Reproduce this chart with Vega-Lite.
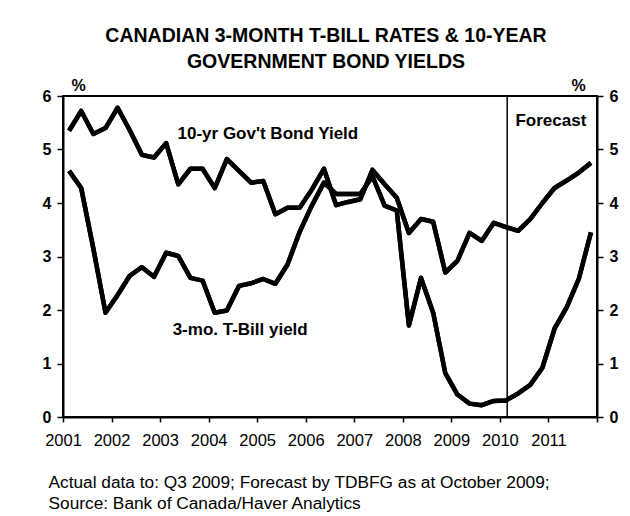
{
  "$schema": "https://vega.github.io/schema/vega-lite/v6.json",
  "width": 534,
  "height": 321,
  "autosize": {"type": "none"},
  "padding": {"left": 63, "top": 96, "right": 33, "bottom": 99},
  "background": "white",
  "config": {
    "view": {"stroke": "black", "strokeWidth": 2},
    "font": "Liberation Sans",
    "axis": {"grid": false, "domainColor": "black", "domainWidth": 2, "tickColor": "black", "tickWidth": 1.5, "labelColor": "black", "titleColor": "black"}
  },
  "title": {
    "text": ["CANADIAN 3-MONTH T-BILL RATES & 10-YEAR", "GOVERNMENT BOND YIELDS"],
    "fontSize": 19.5,
    "fontWeight": "bold",
    "font": "Liberation Sans",
    "color": "black",
    "anchor": "middle",
    "frame": "group",
    "offset": 5,
    "dx": -4,
    "lineHeight": 26
  },
  "datasets": {
    "rates": [
      {"t": 2001.125, "series": "10yr", "rate": 5.35},
      {"t": 2001.375, "series": "10yr", "rate": 5.72},
      {"t": 2001.625, "series": "10yr", "rate": 5.29},
      {"t": 2001.875, "series": "10yr", "rate": 5.40},
      {"t": 2002.125, "series": "10yr", "rate": 5.78},
      {"t": 2002.375, "series": "10yr", "rate": 5.36},
      {"t": 2002.625, "series": "10yr", "rate": 4.90},
      {"t": 2002.875, "series": "10yr", "rate": 4.85},
      {"t": 2003.125, "series": "10yr", "rate": 5.12},
      {"t": 2003.375, "series": "10yr", "rate": 4.35},
      {"t": 2003.625, "series": "10yr", "rate": 4.64},
      {"t": 2003.875, "series": "10yr", "rate": 4.64},
      {"t": 2004.125, "series": "10yr", "rate": 4.28},
      {"t": 2004.375, "series": "10yr", "rate": 4.82},
      {"t": 2004.625, "series": "10yr", "rate": 4.60},
      {"t": 2004.875, "series": "10yr", "rate": 4.38},
      {"t": 2005.125, "series": "10yr", "rate": 4.41},
      {"t": 2005.375, "series": "10yr", "rate": 3.79},
      {"t": 2005.625, "series": "10yr", "rate": 3.91},
      {"t": 2005.875, "series": "10yr", "rate": 3.91},
      {"t": 2006.125, "series": "10yr", "rate": 4.25},
      {"t": 2006.375, "series": "10yr", "rate": 4.64},
      {"t": 2006.625, "series": "10yr", "rate": 3.96},
      {"t": 2006.875, "series": "10yr", "rate": 4.02},
      {"t": 2007.125, "series": "10yr", "rate": 4.07},
      {"t": 2007.375, "series": "10yr", "rate": 4.62},
      {"t": 2007.625, "series": "10yr", "rate": 4.35},
      {"t": 2007.875, "series": "10yr", "rate": 4.10},
      {"t": 2008.125, "series": "10yr", "rate": 3.44},
      {"t": 2008.375, "series": "10yr", "rate": 3.70},
      {"t": 2008.625, "series": "10yr", "rate": 3.65},
      {"t": 2008.875, "series": "10yr", "rate": 2.70},
      {"t": 2009.125, "series": "10yr", "rate": 2.92},
      {"t": 2009.375, "series": "10yr", "rate": 3.44},
      {"t": 2009.625, "series": "10yr", "rate": 3.29},
      {"t": 2009.875, "series": "10yr", "rate": 3.63},
      {"t": 2010.125, "series": "10yr", "rate": 3.55},
      {"t": 2010.375, "series": "10yr", "rate": 3.48},
      {"t": 2010.625, "series": "10yr", "rate": 3.70},
      {"t": 2010.875, "series": "10yr", "rate": 4.00},
      {"t": 2011.125, "series": "10yr", "rate": 4.28},
      {"t": 2011.375, "series": "10yr", "rate": 4.42},
      {"t": 2011.625, "series": "10yr", "rate": 4.57},
      {"t": 2011.875, "series": "10yr", "rate": 4.75},
      {"t": 2001.125, "series": "tbill", "rate": 4.60},
      {"t": 2001.375, "series": "tbill", "rate": 4.28},
      {"t": 2001.625, "series": "tbill", "rate": 3.15},
      {"t": 2001.875, "series": "tbill", "rate": 1.95},
      {"t": 2002.125, "series": "tbill", "rate": 2.28},
      {"t": 2002.375, "series": "tbill", "rate": 2.64},
      {"t": 2002.625, "series": "tbill", "rate": 2.80},
      {"t": 2002.875, "series": "tbill", "rate": 2.62},
      {"t": 2003.125, "series": "tbill", "rate": 3.07},
      {"t": 2003.375, "series": "tbill", "rate": 3.01},
      {"t": 2003.625, "series": "tbill", "rate": 2.60},
      {"t": 2003.875, "series": "tbill", "rate": 2.55},
      {"t": 2004.125, "series": "tbill", "rate": 1.95},
      {"t": 2004.375, "series": "tbill", "rate": 1.99},
      {"t": 2004.625, "series": "tbill", "rate": 2.45},
      {"t": 2004.875, "series": "tbill", "rate": 2.50},
      {"t": 2005.125, "series": "tbill", "rate": 2.58},
      {"t": 2005.375, "series": "tbill", "rate": 2.49},
      {"t": 2005.625, "series": "tbill", "rate": 2.85},
      {"t": 2005.875, "series": "tbill", "rate": 3.46},
      {"t": 2006.125, "series": "tbill", "rate": 3.95},
      {"t": 2006.375, "series": "tbill", "rate": 4.38},
      {"t": 2006.625, "series": "tbill", "rate": 4.17},
      {"t": 2006.875, "series": "tbill", "rate": 4.17},
      {"t": 2007.125, "series": "tbill", "rate": 4.17},
      {"t": 2007.375, "series": "tbill", "rate": 4.50},
      {"t": 2007.625, "series": "tbill", "rate": 3.95},
      {"t": 2007.875, "series": "tbill", "rate": 3.86},
      {"t": 2008.125, "series": "tbill", "rate": 1.71},
      {"t": 2008.375, "series": "tbill", "rate": 2.60},
      {"t": 2008.625, "series": "tbill", "rate": 1.95},
      {"t": 2008.875, "series": "tbill", "rate": 0.82},
      {"t": 2009.125, "series": "tbill", "rate": 0.42},
      {"t": 2009.375, "series": "tbill", "rate": 0.25},
      {"t": 2009.625, "series": "tbill", "rate": 0.22},
      {"t": 2009.875, "series": "tbill", "rate": 0.30},
      {"t": 2010.125, "series": "tbill", "rate": 0.31},
      {"t": 2010.375, "series": "tbill", "rate": 0.44},
      {"t": 2010.625, "series": "tbill", "rate": 0.60},
      {"t": 2010.875, "series": "tbill", "rate": 0.92},
      {"t": 2011.125, "series": "tbill", "rate": 1.65},
      {"t": 2011.375, "series": "tbill", "rate": 2.05},
      {"t": 2011.625, "series": "tbill", "rate": 2.58},
      {"t": 2011.875, "series": "tbill", "rate": 3.45}
    ],
    "notes": [
      {"label": "Forecast", "t": 2011.05, "rate": 5.53},
      {"label": "10-yr Gov't Bond Yield", "t": 2005.22, "rate": 5.29},
      {"label": "3-mo. T-Bill yield", "t": 2004.65, "rate": 1.62}
    ],
    "forecast": [
      {"t": 2010.15}
    ]
  },
  "layer": [
    {
      "data": {"name": "rates"},
      "mark": {"type": "line", "color": "black", "strokeWidth": 4.5, "strokeJoin": "round"},
      "encoding": {
        "x": {
          "field": "t",
          "type": "quantitative",
          "scale": {"domain": [2001, 2012], "nice": false, "zero": false},
          "axis": {
            "values": [2001, 2002, 2003, 2004, 2005, 2006, 2007, 2008, 2009, 2010, 2011, 2012],
            "format": "d",
            "labelExpr": "datum.value == 2012 ? '' : datum.label",
            "labelDx": 6,
            "labelFontSize": 16.5,
            "labelPadding": 10,
            "labelFlush": false,
            "labelOverlap": false,
            "tickSize": 5,
            "title": ["Actual data to: Q3 2009; Forecast by TDBFG as at October 2009;", "Source: Bank of Canada/Haver Analytics"],
            "titleFontSize": 17.3,
            "titleFontWeight": "normal",
            "titleAnchor": "start",
            "titleAlign": "left",
            "titleBaseline": "alphabetic",
            "titleX": -15,
            "titleY": 70,
            "titleLineHeight": 21
          }
        },
        "y": {
          "field": "rate",
          "type": "quantitative",
          "scale": {"domain": [0, 6], "nice": false},
          "axis": {
            "orient": "left",
            "values": [0, 1, 2, 3, 4, 5, 6],
            "labelFontSize": 16,
            "labelFontWeight": "bold",
            "labelPadding": 6,
            "tickSize": 6,
            "title": "%",
            "titleAngle": 0,
            "titleX": 15,
            "titleY": -6,
            "titleAlign": "center",
            "titleBaseline": "alphabetic",
            "titleFontSize": 16,
            "titleFontWeight": "bold"
          }
        },
        "detail": {"field": "series", "type": "nominal"}
      }
    },
    {
      "data": {"name": "rates"},
      "mark": {"type": "line", "color": "black", "strokeWidth": 4.5, "strokeJoin": "round"},
      "encoding": {
        "x": {"field": "t", "type": "quantitative"},
        "y": {
          "field": "rate",
          "type": "quantitative",
          "axis": {
            "orient": "right",
            "values": [0, 1, 2, 3, 4, 5, 6],
            "labelFontSize": 16,
            "labelFontWeight": "bold",
            "labelPadding": 6,
            "tickSize": 6,
            "title": "%",
            "titleAngle": 0,
            "titleX": -19,
            "titleY": -6,
            "titleAlign": "center",
            "titleBaseline": "alphabetic",
            "titleFontSize": 16,
            "titleFontWeight": "bold"
          }
        },
        "detail": {"field": "series", "type": "nominal"}
      }
    },
    {
      "data": {"name": "forecast"},
      "mark": {"type": "rule", "color": "black", "strokeWidth": 1.5},
      "encoding": {"x": {"field": "t", "type": "quantitative"}}
    },
    {
      "data": {"name": "notes"},
      "mark": {"type": "text", "fontSize": 17, "fontWeight": "bold", "align": "center", "baseline": "middle", "color": "black"},
      "encoding": {
        "x": {"field": "t", "type": "quantitative"},
        "y": {"field": "rate", "type": "quantitative", "axis": null},
        "text": {"field": "label", "type": "nominal"}
      }
    }
  ],
  "resolve": {"axis": {"y": "independent"}}
}
